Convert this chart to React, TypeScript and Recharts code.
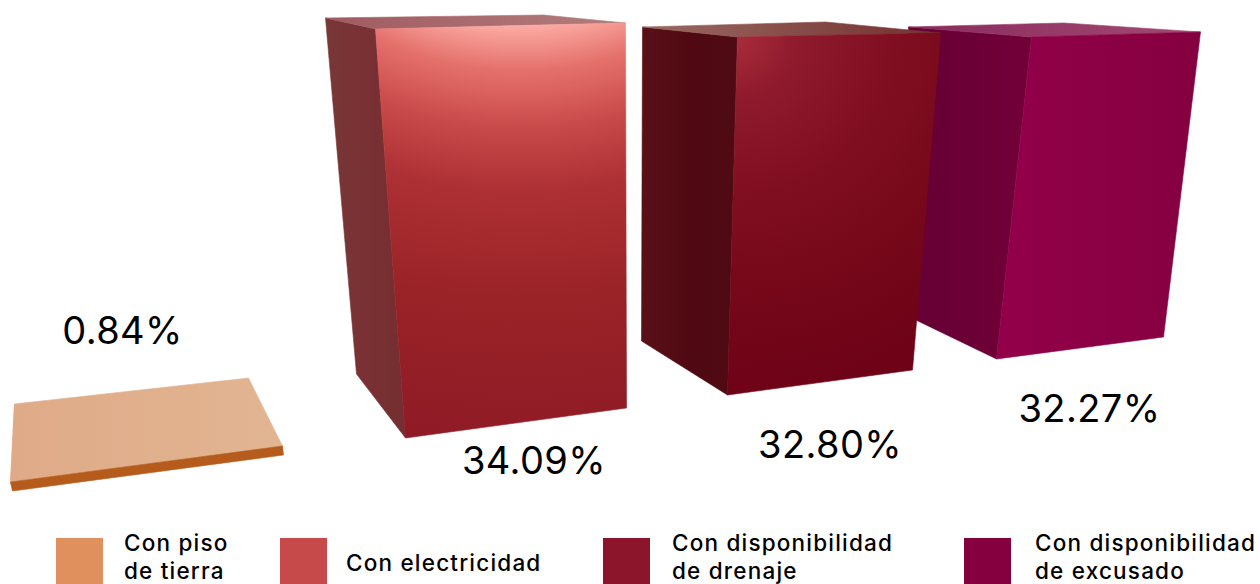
import { BarChart, Bar, XAxis, YAxis, Legend, LabelList } from "recharts";

const categories = [
  "Con piso de tierra",
  "Con electricidad",
  "Con disponibilidad de drenaje",
  "Con disponibilidad de excusado",
];
const values = [0.84, 34.09, 32.8, 32.27];
const legendLines = [
  ["Con piso", "de tierra"],
  ["Con electricidad"],
  ["Con disponibilidad", "de drenaje"],
  ["Con disponibilidad", "de excusado"],
];
const legendColors = ["#e0905c", "#c64a4a", "#8d152b", "#85003f"];

// painted last to first so the drainage box overlaps the one behind it
const rows = categories.map((category, i) => ({ category, value: values[i] })).reverse();

// perspective of each box: offsets from the corners of the bar's own rect
// [dx, dy] from rect top-left for top corners, from rect bottom-left for bottom corners
const projection = [
  { backTL: [-33.5, 5.5], frontTL: [-37.5, 83.5], frontTR: [234.5, 47.5], backTR: [200.5, -20.5], frontBL: [-35.5, 83], frontBR: [235.5, 47], backBL: [-35.5, 83] },
  { backTL: [-37.5, -5], frontTL: [12.5, 6], frontTR: [262.5, 0], backTR: [180.5, -8], frontBL: [42.5, 30], frontBR: [263.5, 0], backBL: [-6.5, -34] },
  { backTL: [-35.5, -10.6], frontTL: [59.5, -0.6], frontTR: [262.5, -4.6], backTR: [147.5, -15.6], frontBL: [49.5, -13], frontBR: [234.5, -38], backBL: [-36.5, -67] },
  { backTL: [-84.5, -16.6], frontTL: [38.5, -6.6], frontTR: [207.5, -11.6], backTR: [70.5, -20.6], frontBL: [3.5, -49], frontBR: [170.5, -71], backBL: [-87.5, -93] },
];
const labelOffsets = [
  [-35.5, -64],
  [61, 66],
  [42, 50],
  [-13.5, 14],
];

function Box3D(props: any) {
  const { x, y, height, payload } = props;
  const i = categories.indexOf(payload.category);
  const p = projection[i];
  const bottom = y + height;
  const top = (o: number[]) => `${x + o[0]},${y + o[1]}`;
  const low = (o: number[]) => `${x + o[0]},${bottom + o[1]}`;
  return (
    <g strokeWidth={0.6}>
      <polygon points={[top(p.backTL), top(p.frontTL), low(p.frontBL), low(p.backBL)].join(" ")} fill={`url(#side${i})`} stroke={`url(#side${i})`} />
      <polygon points={[top(p.backTL), top(p.backTR), top(p.frontTR), top(p.frontTL)].join(" ")} fill={`url(#roof${i})`} stroke={`url(#roof${i})`} />
      <polygon points={[top(p.frontTL), top(p.frontTR), low(p.frontBR), low(p.frontBL)].join(" ")} fill={`url(#face${i})`} stroke={`url(#face${i})`} />
    </g>
  );
}

function ValueLabel(props: any) {
  const { x, y, width, height, value, index } = props;
  const off = labelOffsets[categories.indexOf(rows[index].category)];
  return (
    <text
      x={x + width / 2 + off[0]}
      y={y + height + off[1]}
      textAnchor="middle"
      fontFamily="Inter"
      fontSize={38}
      letterSpacing={0.4}
      fill="#000"
    >
      {`${value.toFixed(2)}%`}
    </text>
  );
}

const swatchLeft = [56, 280, 603, 964];
const legendTextLeft = [124, 346, 672, 1035];

function BoxLegend() {
  return (
    <div style={{ position: "relative", width: 1260, height: 46, fontFamily: "Inter", fontSize: 22.5, fontWeight: 500, letterSpacing: 1.2, color: "#000" }}>
      {categories.map((c, i) => (
        <div key={c}>
          <div style={{ position: "absolute", left: swatchLeft[i], top: 0, width: 47, height: 46, background: legendColors[i] }} />
          <div
            style={{
              position: "absolute",
              left: legendTextLeft[i],
              top: legendLines[i].length === 1 ? 11 : -8.6,
              lineHeight: "27.3px",
              whiteSpace: "nowrap",
            }}
          >
            {legendLines[i].map((l) => (
              <div key={l}>{l}</div>
            ))}
          </div>
        </div>
      ))}
    </div>
  );
}

export default function App() {
  return (
    <div style={{ position: "fixed", left: 0, top: 0, width: 1260, height: 584, overflow: "hidden", background: "#fff" }}>
      <BarChart width={1260} height={584} data={rows} margin={{ top: 23, right: 0, left: 0, bottom: 130 }}>
        <defs>
          <linearGradient id="face0" x1="0" y1="0" x2="1" y2="0">
            <stop offset="0" stopColor="#b55c1d" />
            <stop offset="1" stopColor="#b55c1d" />
          </linearGradient>
          <linearGradient id="roof0" x1="0" y1="0" x2="1" y2="0">
            <stop offset="0" stopColor="#dfaa88" />
            <stop offset="1" stopColor="#e2b592" />
          </linearGradient>
          <linearGradient id="side0" x1="0" y1="0" x2="1" y2="0">
            <stop offset="0" stopColor="#dfaa88" />
            <stop offset="1" stopColor="#dfaa88" />
          </linearGradient>

          <radialGradient id="face1" gradientUnits="userSpaceOnUse" cx={520} cy={-250} r={700}>
            <stop offset="0.39" stopColor="#fdaea6" />
            <stop offset="0.457" stopColor="#e5716c" />
            <stop offset="0.54" stopColor="#c94a4a" />
            <stop offset="0.63" stopColor="#ad3034" />
            <stop offset="0.786" stopColor="#9a2327" />
            <stop offset="1" stopColor="#8f1a26" />
          </radialGradient>
          <linearGradient id="roof1" x1="0" y1="0" x2="1" y2="0">
            <stop offset="0" stopColor="#a05a60" />
            <stop offset="1" stopColor="#b27e7e" />
          </linearGradient>
          <linearGradient id="side1" x1="0" y1="0" x2="1" y2="0">
            <stop offset="0" stopColor="#773836" />
            <stop offset="0.5" stopColor="#7a3034" />
            <stop offset="1" stopColor="#742f30" />
          </linearGradient>

          <radialGradient id="face2" gradientUnits="userSpaceOnUse" cx={737} cy={38} r={400}>
            <stop offset="0" stopColor="#a82c3a" />
            <stop offset="0.15" stopColor="#8f1a2d" />
            <stop offset="0.4" stopColor="#7f0e20" />
            <stop offset="0.7" stopColor="#730618" />
            <stop offset="1" stopColor="#6c0016" />
          </radialGradient>
          <linearGradient id="roof2" x1="0" y1="0" x2="1" y2="0">
            <stop offset="0" stopColor="#9a6a62" />
            <stop offset="1" stopColor="#74302f" />
          </linearGradient>
          <linearGradient id="side2" x1="0" y1="0" x2="1" y2="0">
            <stop offset="0" stopColor="#5a1018" />
            <stop offset="0.5" stopColor="#500913" />
            <stop offset="1" stopColor="#4f0a13" />
          </linearGradient>

          <linearGradient id="face3" x1="0" y1="0" x2="1" y2="0">
            <stop offset="0" stopColor="#93004a" />
            <stop offset="1" stopColor="#850040" />
          </linearGradient>
          <linearGradient id="roof3" x1="0" y1="0" x2="1" y2="0">
            <stop offset="0" stopColor="#8a2a5c" />
            <stop offset="1" stopColor="#a24a72" />
          </linearGradient>
          <linearGradient id="side3" x1="0" y1="0" x2="1" y2="0">
            <stop offset="0" stopColor="#650034" />
            <stop offset="1" stopColor="#720038" />
          </linearGradient>
        </defs>
        <XAxis dataKey="category" hide reversed />
        <YAxis hide domain={[0, 34.09]} />
        <Legend
          verticalAlign="bottom"
          height={46}
          content={<BoxLegend />}
          wrapperStyle={{ left: 0, top: 538, width: 1260, height: 46 }}
        />
        <Bar dataKey="value" barSize={220} shape={<Box3D />} isAnimationActive={false}>
          <LabelList dataKey="value" content={<ValueLabel />} />
        </Bar>
      </BarChart>
    </div>
  );
}
